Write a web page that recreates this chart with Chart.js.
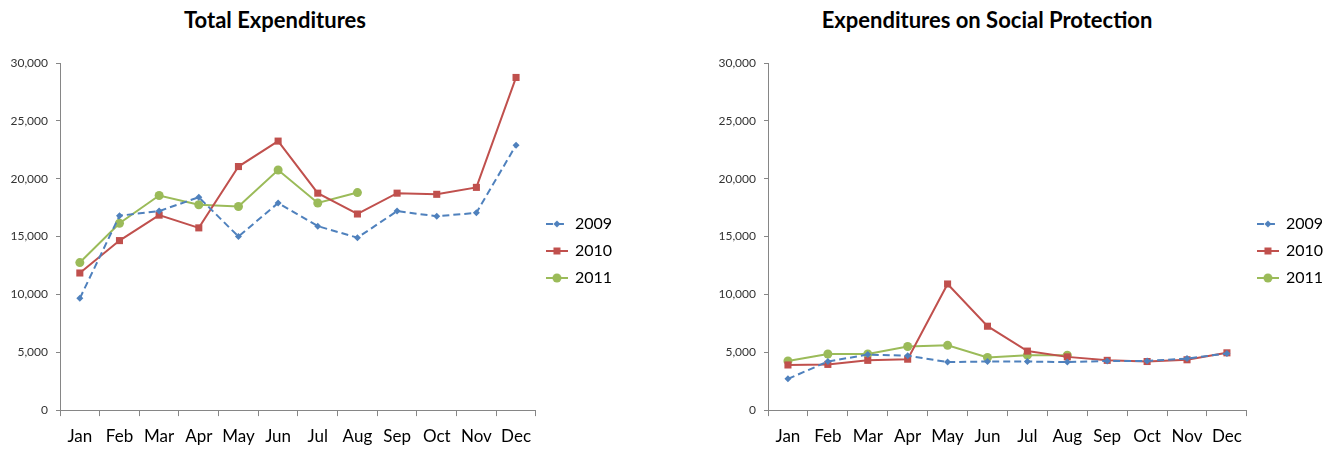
<!DOCTYPE html>
<html>
<head>
<meta charset="utf-8">
<script src="https://cdn.jsdelivr.net/npm/chart.js@4.4.0/dist/chart.umd.min.js"></script>
<style>
  body { margin: 0; background: #fff; width: 1335px; height: 450px; position: relative; overflow: hidden; font-family: Lato, sans-serif; }
  .title { position: absolute; top: 7px; font-weight: bold; font-size: 22px; line-height: 26px; text-align: center; color: #000; }
  .box { position: absolute; top: 0; height: 450px; }
</style>
</head>
<body>
<div class="title" style="left:0;width:550px">Total Expenditures</div>
<div class="title" style="left:700px;width:574px">Expenditures on Social Protection</div>
<div class="box" style="left:0;width:640px"><canvas id="chart-total"></canvas></div>
<div class="box" style="left:700px;width:635px"><canvas id="chart-social"></canvas></div>
<script>
// Monthly expenditures.
var months = ["Jan", "Feb", "Mar", "Apr", "May", "Jun", "Jul", "Aug", "Sep", "Oct", "Nov", "Dec"];
var years = ["2009", "2010", "2011"];

var total2009 = [9660, 16800, 17200, 18400, 15000, 17900, 15900, 14900, 17200, 16750, 17050, 22900];
var total2010 = [11850, 14650, 16850, 15750, 21050, 23250, 18750, 16950, 18750, 18650, 19250, 28750];
var total2011 = [12750, 16150, 18550, 17750, 17600, 20750, 17900, 18800];

var social2009 = [2700, 4200, 4800, 4700, 4150, 4200, 4200, 4150, 4250, 4250, 4450, 4900];
var social2010 = [3900, 3950, 4300, 4400, 10900, 7250, 5100, 4600, 4300, 4200, 4350, 4950];
var social2011 = [4250, 4850, 4850, 5500, 5600, 4550, 4750, 4750];

var yTicks = { min: 0, max: 30000, step: 5000 };

(function () {
  var colors = {
    blue: "#4F81BD",
    red: "#C0504D",
    green: "#9BBB59",
    axis: "#868686",
    ink: "#000000",
    inkSoft: "#333333",
  };
  var family = "Lato, sans-serif";

  var styles = [
    { color: colors.blue, dash: [7, 4], point: "rectRot", radius: 3.5 },
    { color: colors.red, dash: [], point: "rect", radius: 5 },
    { color: colors.green, dash: [], point: "circle", radius: 4.5 },
  ];

  // Excel-style legend key: short line with the marker in the middle
  function legendIcon(s) {
    var c = document.createElement("canvas");
    c.width = 22; c.height = 12;
    var ctx = c.getContext("2d");
    ctx.strokeStyle = s.color;
    ctx.lineWidth = 2;
    ctx.setLineDash(s.dash);
    ctx.beginPath(); ctx.moveTo(0, 6); ctx.lineTo(22, 6); ctx.stroke();
    ctx.setLineDash([]);
    ctx.fillStyle = s.color;
    ctx.beginPath();
    if (s.point === "rectRot") {
      ctx.moveTo(11, 2.5); ctx.lineTo(14.5, 6); ctx.lineTo(11, 9.5); ctx.lineTo(7.5, 6);
    } else if (s.point === "rect") {
      ctx.rect(7.5, 2.5, 7, 7);
    } else {
      ctx.arc(11, 6, 4.5, 0, Math.PI * 2);
    }
    ctx.fill();
    return c;
  }
  var icons = styles.map(legendIcon);

  function makeChart(id, series, axisWidth, padRight) {
    return new Chart(document.getElementById(id), {
      type: "line",
      data: {
        labels: months,
        datasets: series.map(function (values, i) {
          var s = styles[i];
          return {
            label: years[i],
            data: values,
            borderColor: s.color,
            backgroundColor: s.color,
            borderWidth: 2,
            borderDash: s.dash,
            pointStyle: s.point,
            pointRadius: s.radius,
            pointHoverRadius: s.radius,
            pointBorderWidth: 0,
            tension: 0,
          };
        }),
      },
      options: {
        responsive: true,
        maintainAspectRatio: false,
        animation: false,
        layout: { padding: { top: 63, bottom: -6.5, left: 0, right: padRight } },
        plugins: {
          legend: {
            position: "right",
            align: "start",
            // empty title used as a spacer so the keys sit where Excel put them
            title: { display: true, text: "", font: { size: 10 }, padding: { top: 0, bottom: 130 } },
            labels: {
              usePointStyle: true,
              pointStyleWidth: 20,
              padding: 11,
              color: colors.ink,
              font: { family: family, size: 16 },
              generateLabels: function (chart) {
                var items = Chart.defaults.plugins.legend.labels.generateLabels(chart);
                items.forEach(function (it, i) { it.pointStyle = icons[i]; });
                return items;
              },
            },
          },
          tooltip: { enabled: false },
        },
        scales: {
          x: {
            offset: true,
            grid: { offset: true, drawOnChartArea: false, tickLength: 6, color: colors.axis },
            border: { color: colors.axis },
            ticks: { color: colors.ink, font: { family: family, size: 17 }, padding: 10, maxRotation: 0 },
          },
          y: {
            min: yTicks.min,
            max: yTicks.max,
            grid: { drawOnChartArea: false, tickLength: 4, color: colors.axis },
            border: { color: colors.axis },
            ticks: {
              stepSize: yTicks.step,
              color: colors.inkSoft,
              font: { family: family, size: 12 },
              padding: 8,
              callback: function (v) { return v.toLocaleString("en-US"); },
            },
            afterFit: function (scale) { scale.width = axisWidth; },
          },
        },
      },
    });
  }

  makeChart("chart-total", [total2009, total2010, total2011], 60, 18);
  makeChart("chart-social", [social2009, social2010, social2011], 68, 2);
})();
</script>
</body>
</html>
